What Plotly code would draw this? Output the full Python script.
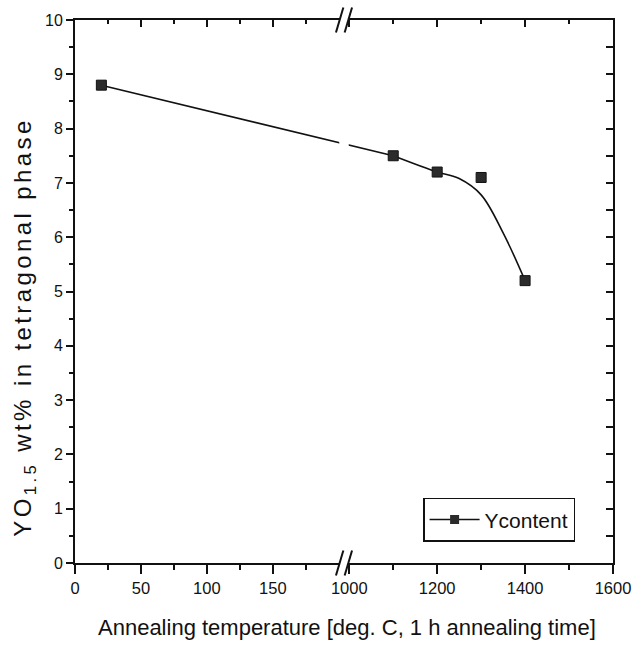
import plotly.graph_objects as go

# ---- data ----
temps = [20, 1100, 1200, 1300, 1400]
ycontent = [8.8, 7.5, 7.2, 7.1, 5.2]
# hand-drawn guide curve (does not pass through the 1300 point)
fit_temps = [20, 1100, 1200, 1250, 1300, 1350, 1400]
fit_vals = [8.8, 7.5, 7.2, 7.08, 6.78, 6.08, 5.2]

major_ticks = [0, 50, 100, 150, 1000, 1200, 1400, 1600]
tick_labels = ["0", "50", "100", "150", "1000", "1200", "1400", "1600"]
minor_ticks = [25, 75, 125, 175, 1100, 1300, 1500]

# ---- broken x axis: 0-200 at full scale, 1000-1600 at 1/3 scale ----
LOW_END = 200
HIGH_START = 1000
GAP = 8
HIGH_FACTOR = 1 / 3


def to_axis(t):
    if t <= LOW_END:
        return t
    return LOW_END + GAP + (t - HIGH_START) * HIGH_FACTOR


AXIS_MAX = to_axis(1600)
BREAK_C = LOW_END + GAP / 2

REG = "Liberation Sans, Arial, sans-serif"
INK = "#111111"

fig = go.Figure()

# guide curve: straight part and smooth part
fig.add_trace(go.Scatter(
    x=[to_axis(t) for t in fit_temps[:2]], y=fit_vals[:2],
    mode="lines", line=dict(color=INK, width=1.6), showlegend=False,
    hoverinfo="skip"))
fig.add_trace(go.Scatter(
    x=[to_axis(t) for t in fit_temps[1:]], y=fit_vals[1:],
    mode="lines", line=dict(color=INK, width=1.6, shape="spline", smoothing=1.0),
    showlegend=False, hoverinfo="skip"))
# data points
fig.add_trace(go.Scatter(
    x=[to_axis(t) for t in temps], y=ycontent, mode="markers",
    marker=dict(symbol="square", size=10, color="#2b2b2b",
                line=dict(color=INK, width=1)),
    showlegend=False, name="Ycontent"))
# legend entry
fig.add_trace(go.Scatter(
    x=[None], y=[None], mode="lines+markers", name="Ycontent",
    line=dict(color=INK, width=1.6),
    marker=dict(symbol="square", size=9, color="#2b2b2b")))
# helper for overlay axes
fig.add_trace(go.Scatter(x=[None], y=[None], xaxis="x2", yaxis="y2",
                         showlegend=False, hoverinfo="skip"))

axis_common = dict(showgrid=False, zeroline=False, showline=True, automargin=False,
                   linecolor=INK, linewidth=1.8, tickcolor=INK, tickwidth=1.5)

fig.update_layout(
    width=636, height=646,
    margin=dict(l=75, r=23, t=20, b=83, autoexpand=False),
    paper_bgcolor="white", plot_bgcolor="white",
    font=dict(family=REG, color=INK),
    xaxis=dict(range=[0, AXIS_MAX], tickmode="array",
               tickvals=[to_axis(t) for t in major_ticks], ticktext=tick_labels,
               ticks="outside", ticklen=9,
               minor=dict(tickvals=[to_axis(t) for t in minor_ticks],
                          ticks="outside", ticklen=5, tickcolor=INK, tickwidth=1.5),
               tickfont=dict(family=REG, size=16.5, color=INK), **axis_common),
    xaxis2=dict(range=[0, AXIS_MAX], overlaying="x", side="top", tickmode="array",
                tickvals=[to_axis(t) for t in major_ticks[1:-1]],
                ticks="inside", ticklen=7, showticklabels=False,
                minor=dict(tickvals=[to_axis(t) for t in minor_ticks],
                           ticks="inside", ticklen=4, tickcolor=INK, tickwidth=1.5),
                **axis_common),
    yaxis=dict(range=[0, 10], tickmode="linear", tick0=0, dtick=1,
               ticks="outside", ticklen=7,
               minor=dict(dtick=0.5, ticks="outside", ticklen=4,
                          tickcolor=INK, tickwidth=1.5),
               tickfont=dict(family=REG, size=16, color=INK), **axis_common),
    yaxis2=dict(range=[0, 10], overlaying="y", side="right", tickmode="linear",
                tick0=0, dtick=0.5, ticks="inside", ticklen=7,
                showticklabels=False, **axis_common),
    legend=dict(x=0.647, y=0.12, xanchor="left", yanchor="top",
                bgcolor="white", bordercolor=INK, borderwidth=1.5,
                font=dict(family=REG, size=21, color=INK),
                itemwidth=50, tracegroupgap=0),
    showlegend=True,
)

# titles
fig.add_annotation(
    text="Annealing temperature [deg. C, 1 h annealing time]",
    xref="paper", yref="paper", x=0.506, y=-0.118, xanchor="center", yanchor="middle",
    showarrow=False, font=dict(family=REG, size=22, color=INK))
fig.add_annotation(
    text='<span style="letter-spacing:3.4px">YO<sub>1.5</sub> wt% in tetragonal phase</span>',
    xref="paper", yref="paper", x=-0.093, y=0.435, xanchor="center", yanchor="middle",
    textangle=-90, showarrow=False, font=dict(family=REG, size=24, color=INK))

# axis break: gap in curve & spines, then the "//" marks
shapes = []
shapes.append(dict(type="rect", xref="x", yref="paper",
                   x0=BREAK_C - 3.6, x1=BREAK_C + 3.6, y0=0.03, y1=0.97,
                   fillcolor="white", line=dict(width=0), layer="above"))
for yb in (0.0, 1.0):
    shapes.append(dict(type="rect", xref="x", yref="paper",
                       x0=BREAK_C - 3.0, x1=BREAK_C + 3.0, y0=yb - 0.02, y1=yb + 0.006,
                       fillcolor="white", line=dict(width=0), layer="above"))
    for dx in (-3.3, 3.3):
        shapes.append(dict(type="line", xref="x", yref="paper",
                           x0=BREAK_C + dx - 2.8, x1=BREAK_C + dx + 2.8,
                           y0=yb - 0.023, y1=yb + 0.023,
                           line=dict(color=INK, width=2), layer="above"))
fig.update_layout(shapes=shapes)

fig.write_html("out.html",
               config={"displayModeBar": False},
               post_script="document.body.style.margin='0px';"
                           "document.body.style.overflow='hidden';")
